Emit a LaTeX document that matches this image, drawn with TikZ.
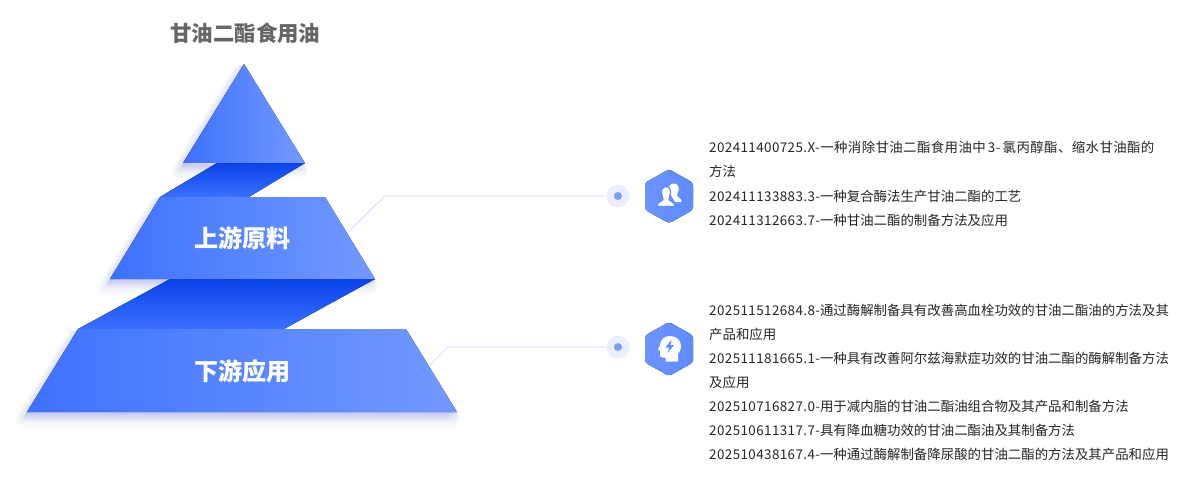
\documentclass[tikz,border=0pt]{standalone}
\usepackage{fontspec}
\setmainfont{Noto Sans CJK SC}
\newfontfamily\spacedf[LetterSpace=3]{Noto Sans CJK SC}
\newfontfamily\widef[LetterSpace=3]{Noto Sans CJK SC}
\definecolor{faceL}{HTML}{3D72FF}
\definecolor{faceR}{HTML}{7299FF}
\definecolor{bandT}{HTML}{0A43EA}
\definecolor{bandB}{HTML}{3A70FF}
\definecolor{linkc}{HTML}{DFE6FF}
\definecolor{haloc}{HTML}{E9EFFF}
\definecolor{dotc}{HTML}{7C9EFB}
\definecolor{hexL}{HTML}{6C94FF}
\definecolor{hexR}{HTML}{5F8BFF}
\definecolor{shadc}{HTML}{4F78F5}
\definecolor{txtc}{HTML}{262626}
\tikzset{
  face/.style={left color=faceL,right color=faceR,draw=none},
  band/.style={top color=bandT,bottom color=bandB,draw=none},
  link/.style={draw=linkc,line width=1.4pt,line join=round},
  halo/.style={circle,fill=haloc,minimum size=23pt,inner sep=0pt},
  dotn/.style={circle,fill=dotc,minimum size=8pt,inner sep=0pt},
  hexa/.style={left color=hexL,right color=hexR,draw=none,rounded corners=3pt},
  title/.style={font=\fontsize{21.4pt}{24pt}\selectfont\bfseries,text=black!60,inner sep=0pt},
  tier/.style={font=\fontsize{24.1pt}{28pt}\selectfont\bfseries,text=white,inner sep=0pt},
  item/.style={font=\fontsize{13.42pt}{16pt}\selectfont,text=txtc,anchor=base west,inner sep=0pt},
  icon/.style={fill=white,draw=none}
}
\newcommand{\softshadow}[1]{%
  \foreach \w in {1,...,15}{%
    \draw[shadc,opacity=0.012,line width=\w pt,line join=round,fill=shadc,fill opacity=0.012,xshift={-0.35*\w},yshift={-0.6*\w}] #1;
  }%
}
\newcommand{\pre}[1]{{\spacedf #1}}
\begin{document}
\begin{tikzpicture}[x=1pt,y=-1pt]
\useasboundingbox (0,0) rectangle (1189,492);
\fill[white] (0,0) rectangle (1189,492);

% soft shadows
\softshadow{(244,64) -- (305,163) -- (183,163) -- cycle}
\softshadow{(160,197) -- (325,197) -- (375,279) -- (110,279) -- cycle}
\softshadow{(78,329) -- (406,329) -- (457,412) -- (27,412) -- cycle}

% connectors
\coordinate (s1) at (348,232);
\coordinate (k1) at (385,196);
\coordinate (s2) at (430,365);
\coordinate (k2) at (448,347);
\node[halo] (halo1) at (618,196) {};
\node[dotn] (dot1) at (618,196) {};
\node[halo] (halo2) at (618,347) {};
\node[dotn] (dot2) at (618,347) {};
\draw[link] (s1) -- (k1) -- (halo1.west);
\draw[link] (s2) -- (k2) -- (halo2.west);

% folded bands
\fill[band] (217,163) -- (305,163) -- (249,197) -- (160,197) -- cycle;
\fill[band] (170,279) -- (375,279) -- (284,329) -- (78,329) -- cycle;

% pyramid faces
\fill[face] (244,64) -- (305,163) -- (183,163) -- cycle;
\fill[face] (160,197) -- (325,197) -- (375,279) -- (110,279) -- cycle;
\fill[face] (78,329) -- (406,329) -- (457,412) -- (27,412) -- cycle;

\node[title] (ttl) at (245.3,33) {甘油二酯食用油};
\node[tier] (t1) at (242.5,238) {上游原料};
\node[tier] (t2) at (242.5,371) {下游应用};

% hexagon 1 with people icon
\fill[hexa] (669,169.3) -- (693,182.8) -- (693,209.8) -- (669,223.3) -- (645,209.8) -- (645,182.8) -- cycle;
\fill[icon] (674,183.5) .. controls (677.5,183.5) and (679,186.5) .. (678.5,190)
  .. controls (678,192.5) and (677,194.5) .. (677,196) .. controls (678,198) and (681.5,198) .. (681.5,202)
  -- (675,202) -- (668,190) .. controls (668.5,186) and (670.5,183.5) .. (674,183.5) -- cycle;
\filldraw[fill=white,draw=hexR,line width=1.2pt] (666,186.6) .. controls (669.5,186.6) and (671,190) .. (670.5,193.5)
  .. controls (670,196) and (669,198) .. (669,199.5) .. controls (670,201.5) and (675,202) .. (675,206.5)
  -- (657,206.5) .. controls (657,202) and (662,201.5) .. (663,199.5) .. controls (663,198) and (662,196) .. (661.5,193.5)
  .. controls (661,190) and (662.5,186.6) .. (666,186.6) -- cycle;

% hexagon 2 with head icon
\fill[hexa] (669,322) -- (693,335.5) -- (693,362.5) -- (669,376) -- (645,362.5) -- (645,335.5) -- cycle;
\fill[icon] (670,336) .. controls (676.5,336) and (681,340.5) .. (681,346)
  .. controls (681,350) and (679,352.5) .. (678,354) -- (678,361.5) -- (665.5,361.5) -- (665.5,357.5)
  -- (662.5,357.5) .. controls (660.5,357.5) and (660,356) .. (660,354.5) -- (660,350.5) -- (658,350)
  .. controls (657.5,349.5) and (658,349) .. (658.5,348) -- (660,345.5)
  .. controls (660,340) and (664,336) .. (670,336) -- cycle;
\fill[hexR] (671.5,339.5) -- (665.5,347.5) -- (669.3,347.5) -- (667.5,353) -- (674,345) -- (670.3,345) -- cycle;

% items
\node[item] (a1) at (709,153) {\pre{202411400725.X-}{\widef 一种消除甘油二酯食用油中\,3-\,氯丙醇酯、缩水甘油酯的}};
\node[item] (a2) at (709,177) {方法};
\node[item] (a3) at (709,201) {\pre{202411133883.3-}一种复合酶法生产甘油二酯的工艺};
\node[item] (a4) at (709,225) {\pre{202411312663.7-}一种甘油二酯的制备方法及应用};
\node[item] (b1) at (709,315) {\pre{202511512684.8-}通过酶解制备具有改善高血栓功效的甘油二酯油的方法及其};
\node[item] (b2) at (709,339) {产品和应用};
\node[item] (b3) at (709,363) {\pre{202511181665.1-}一种具有改善阿尔兹海默症功效的甘油二酯的酶解制备方法};
\node[item] (b4) at (709,387) {及应用};
\node[item] (b5) at (709,411) {\pre{202510716827.0-}用于减内脂的甘油二酯油组合物及其产品和制备方法};
\node[item] (b6) at (709,435) {\pre{202510611317.7-}具有降血糖功效的甘油二酯油及其制备方法};
\node[item] (b7) at (709,459) {\pre{202510438167.4-}一种通过酶解制备降尿酸的甘油二酯的方法及其产品和应用};
\end{tikzpicture}
\end{document}
